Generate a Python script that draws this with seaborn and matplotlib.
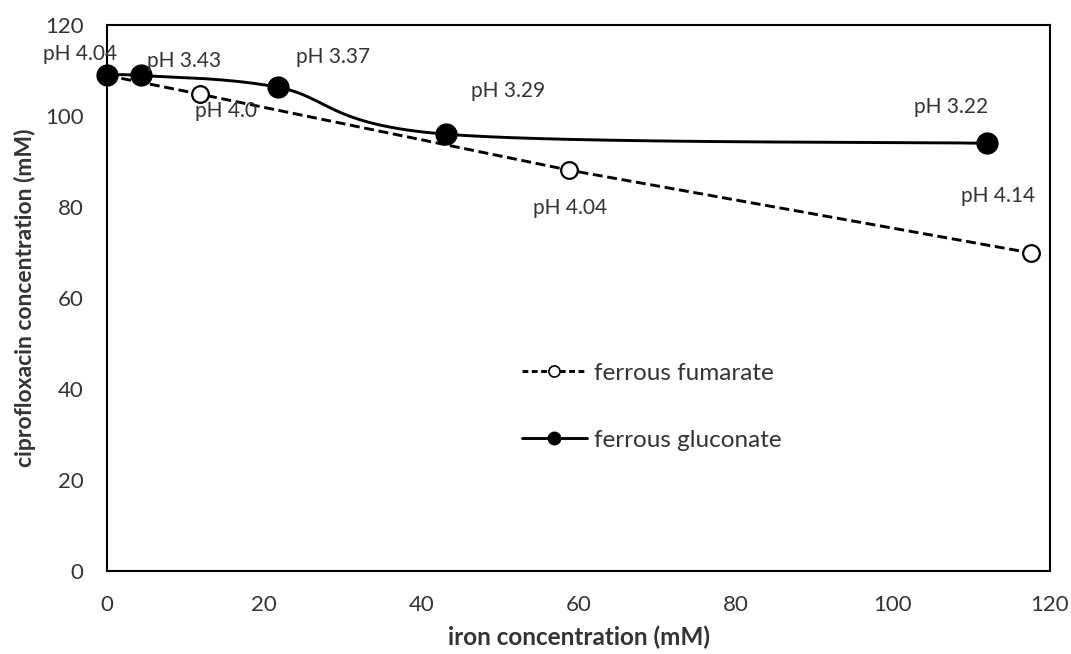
import numpy as np
import pandas as pd
import matplotlib
matplotlib.use("Agg")
import matplotlib.pyplot as plt
from matplotlib.lines import Line2D
import seaborn as sns

# ---- data ----
gluconate_x = [0, 4.3, 21.8, 43.1, 112.0]
gluconate_y = [108.9, 108.9, 106.3, 96.0, 94.0]
fumarate_x = [0, 11.8, 58.8, 117.6]
fumarate_y = [108.9, 104.8, 88.1, 69.9]

gluconate_ph = ["pH 4.04", "pH 3.43", "pH 3.37", "pH 3.29", "pH 3.22"]
fumarate_ph = ["pH 4.0", "pH 4.04", "pH 4.14"]

x_ticks = [0, 20, 40, 60, 80, 100, 120]
y_ticks = [0, 20, 40, 60, 80, 100, 120]

sns.set_theme(style="white")
plt.rcParams['font.family'] = ['Lato', 'DejaVu Sans']


def excel_smooth(xs, ys, n=60):
    """Bezier smoothing (Excel-like) through the measured points."""
    P = np.column_stack([xs, ys]).astype(float)
    out = []
    m = len(P)
    for i in range(m - 1):
        p0 = P[i]
        p3 = P[i + 1]
        prev = P[i - 1] if i > 0 else P[i]
        nxt = P[i + 2] if i + 2 < m else P[i + 1]
        c1 = p0 + (p3 - prev) / 6.0
        c2 = p3 - (nxt - p0) / 6.0
        t = np.linspace(0, 1, n)[:, None]
        seg = ((1 - t) ** 3) * p0 + 3 * ((1 - t) ** 2) * t * c1 + 3 * (1 - t) * t ** 2 * c2 + t ** 3 * p3
        out.append(seg if i == 0 else seg[1:])
    return np.vstack(out)


fig = plt.figure(figsize=(10.71, 6.54), dpi=100)
ax = fig.add_axes([0.0999, 0.1269, 0.8805, 0.8349])

# smoothed gluconate curve
curve = excel_smooth(gluconate_x, gluconate_y)
df_curve = pd.DataFrame({"x": curve[:, 0], "y": curve[:, 1]})
sns.lineplot(data=df_curve, x="x", y="y", sort=False, estimator=None, ax=ax,
             color="black", lw=2.1, zorder=3)

# fumarate dashed line
df_fum = pd.DataFrame({"x": fumarate_x, "y": fumarate_y})
ax.plot(df_fum["x"], df_fum["y"], color="black", lw=2.1, dashes=(3.4, 1.6), zorder=2)

# markers
df_glu = pd.DataFrame({"x": gluconate_x, "y": gluconate_y})
ax.plot(df_fum["x"], df_fum["y"], ls="none", marker="o", ms=12, mfc="white",
        mec="black", mew=1.6, zorder=4, clip_on=False)
ax.plot(df_glu["x"], df_glu["y"], ls="none", marker="o", ms=15, mfc="black",
        mec="black", zorder=5, clip_on=False)

# pH labels
txt_color = "#333333"
glu_label_pos = [(-3.4, 113.6), (9.8, 112.0), (28.8, 113.0), (51.1, 105.5), (107.4, 102.0)]
fum_label_pos = [(15.2, 101.0), (58.9, 79.8), (113.4, 82.4)]
for lab, (lx, ly) in zip(gluconate_ph, glu_label_pos):
    ax.text(lx, ly, lab, ha="center", va="center", fontsize=15, color=txt_color, zorder=6)
for lab, (lx, ly) in zip(fumarate_ph, fum_label_pos):
    ax.text(lx, ly, lab, ha="center", va="center", fontsize=15, color=txt_color, zorder=6)

ax.set_xlim(0, 120)
ax.set_ylim(0, 120)
ax.set_xticks(x_ticks)
ax.set_yticks(y_ticks)
ax.tick_params(axis="x", labelsize=16, labelcolor=txt_color, length=0, pad=17)
ax.tick_params(axis="y", labelsize=16, labelcolor=txt_color, length=0, pad=17)
for s in ax.spines.values():
    s.set_visible(True)
    s.set_color("black")
    s.set_linewidth(1.5)

ax.set_xlabel("iron concentration (mM)", fontsize=17.5, fontweight="bold", color=txt_color, labelpad=8)
ax.set_ylabel("ciprofloxacin concentration (mM)", fontsize=16.5, fontweight="bold", color=txt_color, labelpad=6)

handles = [
    Line2D([0], [0], color="black", lw=2.1, dashes=(2.0, 1.2), marker="o", ms=8,
           mfc="white", mec="black", mew=1.2),
    Line2D([0], [0], color="black", lw=2.1, marker="o", ms=9, mfc="black", mec="black"),
]
ax.legend(handles, ["ferrous fumarate", "ferrous gluconate"], loc="center left",
          bbox_to_anchor=(0.487, 0.378), bbox_transform=fig.transFigure,
          frameon=False, fontsize=17.5, handlelength=2.7, handletextpad=0.3,
          labelspacing=1.9, borderpad=0, borderaxespad=0, labelcolor=txt_color)

fig.savefig("out.png", dpi=100)
